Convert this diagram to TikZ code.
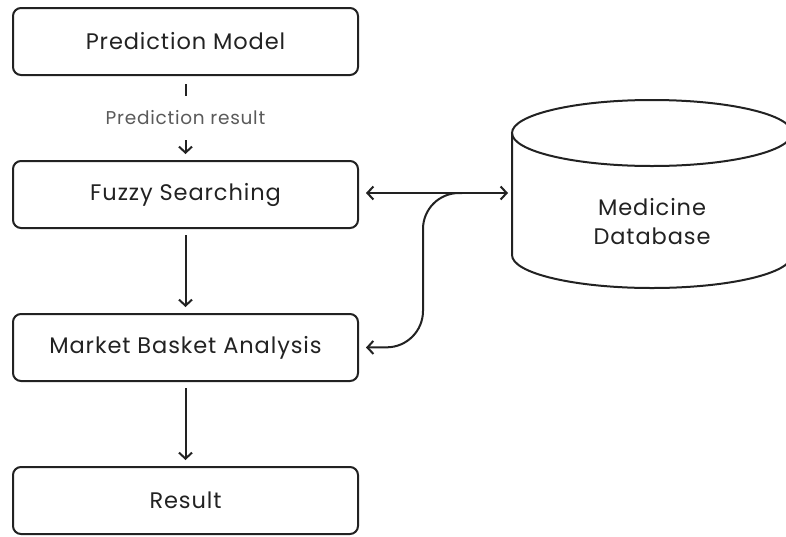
\documentclass[tikz,border=0pt]{standalone}
\usepackage{fontspec}
\setmainfont{Poppins}[LetterSpace=4]
\usetikzlibrary{arrows.meta}
\definecolor{ink}{HTML}{222222}
\definecolor{lbl}{HTML}{5A5A5A}
\begin{document}
\begin{tikzpicture}[x=1pt,y=-1pt,
  box/.style={draw=ink, line width=2pt, rounded corners=8pt, minimum width=345pt, minimum height=67pt, text=ink, font=\fontsize{22.5}{26}\selectfont, inner sep=0pt},
  conn/.style={draw=ink, line width=2pt, -{Straight Barb[length=6pt,width=13pt,line width=2pt]}},
  dconn/.style={draw=ink, line width=2pt, {Straight Barb[length=6pt,width=13pt,line width=2pt]}-{Straight Barb[length=6pt,width=13pt,line width=2pt]}}]
\useasboundingbox (0,0) rectangle (786,536);
\fill[white] (0,0) rectangle (786,536);
\begin{scope}
\clip (0,0) rectangle (786,536);
\draw[ink, line width=2pt] (512,133) -- (512,255) arc[start angle=180, end angle=360, x radius=140pt, y radius=33pt] -- (792,133);
\draw[ink, line width=2pt] (652,133) ellipse[x radius=140pt, y radius=33pt];
\end{scope}
\node[text=ink, font=\fontsize{22.5}{29}\selectfont, align=center] (db) at (652,222) {Medicine\\Database};
\coordinate (dbw) at (512,193);

\node[box] (pm) at (185.5,41.5) {Prediction Model};
\node[box] (fs) at (185.5,194.5) {Fuzzy Searching};
\node[box] (mb) at (185.5,347.5) {Market Basket Analysis};
\node[box] (rs) at (185.5,500.5) {Result};

\node[text=lbl, font=\fontsize{18.5}{20}\selectfont, minimum height=44pt, inner sep=0pt] (pr) at (185.5,118) {Prediction result};
\draw[ink, line width=2pt] ([yshift=-8pt]pm.south) -- (pr.north);
\draw[conn] (pr.south) -- ([yshift=6pt]fs.north);
\draw[conn] ([yshift=-6pt]fs.south) -- ([yshift=6pt]mb.north);
\draw[conn] ([yshift=-6pt]mb.south) -- ([yshift=6pt]rs.north);

\draw[dconn] ([xshift=7pt]fs.east |- dbw) -- ([xshift=-4pt]dbw);
\coordinate (br) at (462,193);
\draw[conn, rounded corners=36pt] (br) -| (423,347) -- ([xshift=7pt]mb.east);
\end{tikzpicture}
\end{document}
